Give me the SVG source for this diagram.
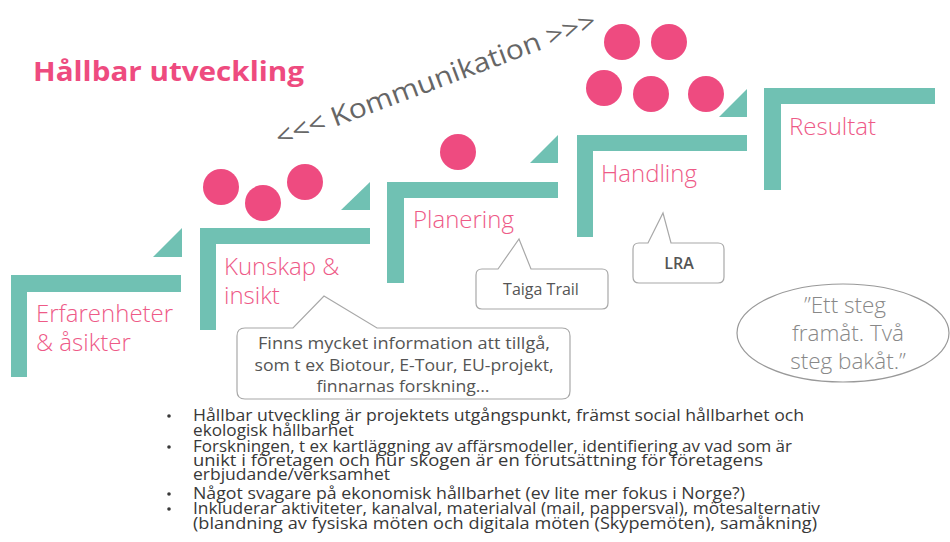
<svg xmlns="http://www.w3.org/2000/svg" width="950" height="542" viewBox="0 0 950 542">
<style>
.bar{fill:#70C1B3}
.dot{fill:#EE4B80}
.lbl{font-family:"Open Sans","Liberation Sans",sans-serif;font-weight:300;font-size:24px;fill:#EE5A87}
.call{fill:#fff;stroke:#A8A8A8;stroke-width:1.2}
.ct{font-family:"Open Sans","Liberation Sans",sans-serif;font-size:16px;fill:#555;text-anchor:middle}
.bt{font-family:"Open Sans","Liberation Sans",sans-serif;font-size:16.5px;fill:#383838}
.bd{fill:#383838}
.qt{font-family:"Open Sans","Liberation Sans",sans-serif;font-weight:300;font-size:22.5px;fill:#888;text-anchor:middle}
</style>
<rect width="950" height="542" fill="#fff"/>
<text x="33" y="81" font-family="Open Sans, Liberation Sans, sans-serif" font-weight="700" font-size="26" fill="#EE4B7F" textLength="271" lengthAdjust="spacingAndGlyphs">Hållbar utveckling</text>
<text x="439" y="88" transform="rotate(-20.5 439 88)" font-family="Open Sans, Liberation Sans, sans-serif" font-size="27" fill="#666" text-anchor="middle" textLength="340" lengthAdjust="spacingAndGlyphs">&lt;&lt;&lt; Kommunikation &gt;&gt;&gt;</text>

<g id="step1">
<rect class="bar" x="11" y="275" width="170" height="17"/>
<rect class="bar" x="11" y="275" width="16" height="102"/>
<polygon class="bar" points="153,257 182,228 182,257"/>
<text class="lbl" x="36" y="322">Erfarenheter</text>
<text class="lbl" x="36" y="351">&amp; åsikter</text>
</g>
<g id="step2">
<rect class="bar" x="200" y="228" width="170" height="16"/>
<rect class="bar" x="200" y="228" width="16" height="102"/>
<polygon class="bar" points="341,210 370,182 370,210"/>
<text class="lbl" x="224" y="275">Kunskap &amp;</text>
<text class="lbl" x="224" y="304">insikt</text>
<circle class="dot" cx="221" cy="187" r="18"/>
<circle class="dot" cx="263" cy="203" r="18"/>
<circle class="dot" cx="305" cy="182" r="18"/>
</g>
<g id="step3">
<rect class="bar" x="387" y="182" width="171" height="16"/>
<rect class="bar" x="387" y="182" width="17" height="101"/>
<polygon class="bar" points="530,163 558,135 558,163"/>
<text class="lbl" x="413" y="228">Planering</text>
<circle class="dot" cx="458" cy="152" r="18"/>
</g>
<g id="step4">
<rect class="bar" x="577" y="135" width="170" height="16"/>
<rect class="bar" x="577" y="135" width="16" height="102"/>
<polygon class="bar" points="719,117 747,89 747,117"/>
<text class="lbl" x="601" y="182">Handling</text>
<circle class="dot" cx="622" cy="42" r="18"/>
<circle class="dot" cx="669" cy="42" r="18"/>
<circle class="dot" cx="604" cy="88" r="18"/>
<circle class="dot" cx="651" cy="94" r="18"/>
<circle class="dot" cx="706" cy="94" r="18"/>
</g>
<g id="step5">
<rect class="bar" x="764" y="88" width="171" height="16"/>
<rect class="bar" x="764" y="88" width="17" height="102"/>
<text class="lbl" x="789" y="135">Resultat</text>
</g>

<g id="callout-finns">
<path class="call" d="M245,328 L293,328 L324,296 L377,328 L562,328 Q570,328 570,336 L570,391 Q570,399 562,399 L245,399 Q237,399 237,391 L237,336 Q237,328 245,328 Z"/>
<text class="ct" x="404" y="349" textLength="292" lengthAdjust="spacingAndGlyphs">Finns mycket information  att tillgå,</text>
<text class="ct" x="404" y="371" textLength="299" lengthAdjust="spacingAndGlyphs">som t ex Biotour, E-Tour, EU-projekt,</text>
<text class="ct" x="403" y="392" textLength="173" lengthAdjust="spacingAndGlyphs">finnarnas forskning…</text>
</g>
<g id="callout-taiga">
<path class="call" d="M482,269 L498,269 L519,239 L531,269 L602,269 Q608,269 608,275 L608,303 Q608,309 602,309 L482,309 Q476,309 476,303 L476,275 Q476,269 482,269 Z"/>
<text class="ct" x="541" y="295">Taiga Trail</text>
</g>
<g id="callout-lra">
<path class="call" d="M639,243 L648,243 L663,213 L671,243 L718,243 Q724,243 724,249 L724,277 Q724,283 718,283 L639,283 Q633,283 633,277 L633,249 Q633,243 639,243 Z"/>
<text class="ct" x="679" y="269" font-weight="600">LRA</text>
</g>
<g id="quote">
<ellipse cx="843" cy="333" rx="106" ry="49" fill="#fff" stroke="#999" stroke-width="1.2"/>
<text class="qt" x="845" y="313">”Ett steg</text>
<text class="qt" x="848" y="341">framåt. Två</text>
<text class="qt" x="848" y="369">steg bakåt.”</text>
</g>

<g id="bullets">
<circle class="bd" cx="169" cy="416" r="1.8"/>
<circle class="bd" cx="169" cy="447" r="1.8"/>
<circle class="bd" cx="169" cy="494" r="1.8"/>
<circle class="bd" cx="169" cy="509" r="1.8"/>
<text class="bt" x="193" y="421" textLength="611" lengthAdjust="spacingAndGlyphs">Hållbar utveckling är projektets utgångspunkt, främst social hållbarhet och</text>
<text class="bt" x="193" y="436" textLength="161" lengthAdjust="spacingAndGlyphs">ekologisk hållbarhet</text>
<text class="bt" x="193" y="452" textLength="599" lengthAdjust="spacingAndGlyphs">Forskningen, t ex kartläggning av affärsmodeller, identifiering av vad som är</text>
<text class="bt" x="193" y="466" textLength="570" lengthAdjust="spacingAndGlyphs">unikt i företagen och hur skogen är en förutsättning  för företagens</text>
<text class="bt" x="193" y="480" textLength="197" lengthAdjust="spacingAndGlyphs">erbjudande/verksamhet</text>
<text class="bt" x="193" y="499" textLength="552" lengthAdjust="spacingAndGlyphs">Något svagare på ekonomisk hållbarhet (ev lite mer fokus i Norge?)</text>
<text class="bt" x="193" y="514" textLength="627" lengthAdjust="spacingAndGlyphs">Inkluderar aktiviteter, kanalval, materialval (mail, pappersval), mötesalternativ</text>
<text class="bt" x="193" y="529" textLength="624" lengthAdjust="spacingAndGlyphs">(blandning av fysiska möten och digitala möten (Skypemöten), samåkning)</text>
</g>
</svg>
